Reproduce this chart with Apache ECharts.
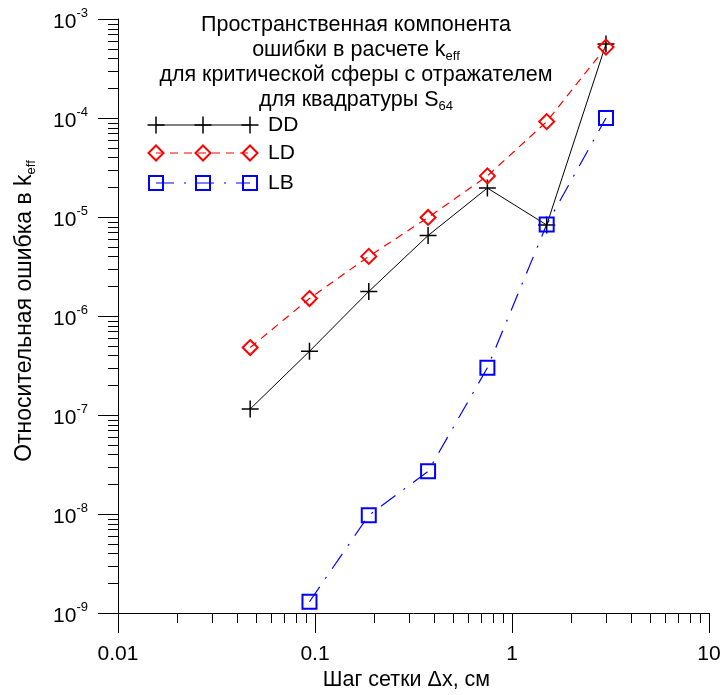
<!DOCTYPE html>
<html>
<head>
<meta charset="utf-8">
<script src="https://cdn.jsdelivr.net/npm/echarts@6/dist/echarts.min.js"></script>
<style>
  html, body { margin: 0; padding: 0; background: #ffffff; }
  #chart { width: 722px; height: 695px; }
</style>
</head>
<body>
<div id="chart"></div>
<script>
// Mesh step (cm) and relative k_eff error for the three schemes
const stepSizes = [0.046875, 0.09375, 0.1875, 0.375, 0.75, 1.5, 3];
const errDD = [1.15e-7, 4.4e-7, 1.77e-6, 6.5e-6, 1.96e-5, 8.3e-6, 5.6e-4];
const errLD = [4.8e-7, 1.5e-6, 4.0e-6, 9.9e-6, 2.6e-5, 9.2e-5, 5.2e-4];
const errLB = [null, 1.3e-9, 9.7e-9, 2.7e-8, 3.0e-7, 8.4e-6, 1.0e-4];

// Axis tick labels
const xTickLabels = ['0.01', '0.1', '1', '10'];
const yTickExponents = ['-9', '-8', '-7', '-6', '-5', '-4', '-3'];

// Minor ticks: 2..9 inside every decade
const minorMultipliers = [2, 3, 4, 5, 6, 7, 8, 9];
const xDecades = [0.01, 0.1, 1];
const yDecades = [1e-9, 1e-8, 1e-7, 1e-6, 1e-5, 1e-4];

const titleLines = [
  'Пространственная компонента',
  'ошибки в расчете k{sub|eff}',
  'для критической сферы с отражателем',
  'для квадратуры S{sub|64}'
];

const FONT = "'Liberation Sans', Arial, Helvetica, sans-serif";
const X_MIN = 0.01, X_MAX = 10, Y_MIN = 1e-9, Y_MAX = 1e-3;

const crossPath = 'path://M8,0L8,16M0,8L16,8';
const seriesDefs = [
  { name: 'DD', values: errDD, color: '#000000', dash: 'solid', width: 1, symbol: crossPath, size: 17, border: 1.5 },
  { name: 'LD', values: errLD, color: '#ff0000', dash: [8, 6], width: 1.2, symbol: 'diamond', size: 15, border: 2 },
  { name: 'LB', values: errLB, color: '#0000ff', dash: [18, 10, 2, 10], width: 1.2, symbol: 'rect', size: 14, border: 2 }
];

const xMinor = [];
xDecades.forEach(d => minorMultipliers.forEach(m => xMinor.push(m * d)));
const yMinor = [];
yDecades.forEach(d => minorMultipliers.forEach(m => yMinor.push(m * d)));

const crisp = v => Math.round(v) + 0.5;

const lineSeries = seriesDefs.map(d => ({
  type: 'line',
  name: d.name,
  data: stepSizes.map((x, i) => (d.values[i] == null ? null : [x, d.values[i]])).filter(Boolean),
  symbol: d.symbol,
  symbolSize: d.size,
  showAllSymbol: true,
  itemStyle: { color: 'none', borderColor: d.color, borderWidth: d.border },
  lineStyle: { color: d.color, width: d.width, type: d.dash },
  emphasis: { disabled: true },
  z: 3
}));

const minorTickSeries = [
  {
    type: 'custom', coordinateSystem: 'cartesian2d', clip: false, silent: true, z: 1,
    data: xMinor.map(v => [v, Y_MIN]),
    renderItem: (params, api) => {
      const p = api.coord([api.value(0), api.value(1)]);
      const x = crisp(p[0]);
      return { type: 'line', shape: { x1: x, y1: p[1], x2: x, y2: p[1] + 10 }, style: { stroke: '#000', lineWidth: 1 } };
    }
  },
  {
    type: 'custom', coordinateSystem: 'cartesian2d', clip: false, silent: true, z: 1,
    data: yMinor.map(v => [X_MIN, v]),
    renderItem: (params, api) => {
      const p = api.coord([api.value(0), api.value(1)]);
      const y = crisp(p[1]);
      return { type: 'line', shape: { x1: p[0] - 10, y1: y, x2: p[0], y2: y }, style: { stroke: '#000', lineWidth: 1 } };
    }
  }
];

// Legend: sample line with three markers, then the label
const legendX = [156, 203, 250];
const legendTextX = 268;
const legendRowY = [125, 153, 183];

function legendMarker(def, cx, cy) {
  const s = def.size / 2;
  const st = { fill: 'none', stroke: def.color, lineWidth: def.border };
  if (def.name === 'DD') {
    return [
      { type: 'line', shape: { x1: cx - s, y1: cy, x2: cx + s, y2: cy }, style: st },
      { type: 'line', shape: { x1: cx, y1: cy - s, x2: cx, y2: cy + s }, style: st }
    ];
  }
  if (def.symbol === 'diamond') {
    return [{ type: 'polygon', shape: { points: [[cx, cy - s], [cx + s, cy], [cx, cy + s], [cx - s, cy]] }, style: st }];
  }
  return [{ type: 'rect', shape: { x: cx - s, y: cy - s, width: 2 * s, height: 2 * s }, style: st }];
}

const legendGraphic = [];
seriesDefs.forEach((def, i) => {
  const y = legendRowY[i];
  legendGraphic.push({
    type: 'line',
    shape: { x1: legendX[0], y1: y, x2: legendX[2], y2: y },
    style: { stroke: def.color, lineWidth: def.width, lineDash: def.dash === 'solid' ? null : def.dash }
  });
  legendX.forEach(x => legendMarker(def, x, y).forEach(el => legendGraphic.push(el)));
  legendGraphic.push({
    type: 'text', x: legendTextX, y: y,
    style: { text: def.name, fontSize: 21, fontFamily: FONT, fill: '#000', verticalAlign: 'middle', align: 'left' }
  });
});

const chart = echarts.init(document.getElementById('chart'), null, { renderer: 'canvas' });
chart.setOption({
  animation: false,
  backgroundColor: '#ffffff',
  title: {
    text: titleLines.join('\n'),
    left: 356, top: 12, textAlign: 'center', padding: 0,
    textStyle: {
      fontSize: 21.5, fontWeight: 'normal', color: '#000', fontFamily: FONT, lineHeight: 25.3,
      rich: { sub: { fontSize: 13, lineHeight: 12, verticalAlign: 'bottom', fontFamily: FONT, color: '#000' } }
    }
  },
  grid: { left: 118, right: 13, top: 19, bottom: 82, containLabel: false, outerBoundsMode: 'none' },
  xAxis: {
    type: 'log', logBase: 10, min: X_MIN, max: X_MAX,
    axisLine: { lineStyle: { color: '#000', width: 1 } },
    axisTick: { show: true, inside: false, length: 20, lineStyle: { color: '#000', width: 1 } },
    minorTick: { show: false },
    splitLine: { show: false },
    axisLabel: {
      margin: 31, fontSize: 21, color: '#000', fontFamily: FONT,
      formatter: v => xTickLabels[Math.round(Math.log10(v) - Math.log10(X_MIN))]
    },
    name: 'Шаг сетки Δx, см',
    nameLocation: 'middle', nameGap: 56, nameMoveOverlap: false,
    nameTextStyle: { fontSize: 21.5, color: '#000', fontFamily: FONT, padding: [0, 14, 0, 0] }
  },
  yAxis: {
    type: 'log', logBase: 10, min: Y_MIN, max: Y_MAX,
    axisLine: { lineStyle: { color: '#000', width: 1 } },
    axisTick: { show: true, inside: false, length: 20, lineStyle: { color: '#000', width: 1 } },
    minorTick: { show: false },
    splitLine: { show: false },
    axisLabel: {
      margin: 30, color: '#000', fontFamily: FONT,
      formatter: v => '{b|10}{s|' + yTickExponents[Math.round(Math.log10(v) - Math.log10(Y_MIN))] + '}',
      rich: {
        b: { fontSize: 21, fontFamily: FONT, color: '#000', padding: [7, 0, 0, 0], verticalAlign: 'bottom' },
        s: { fontSize: 13, fontFamily: FONT, color: '#000', padding: [2, 0, 0, 0], verticalAlign: 'top' }
      }
    },
    name: '{n|Относительная ошибка в k}{sub|eff}',
    nameLocation: 'middle', nameGap: 80, nameMoveOverlap: false,
    nameTextStyle: {
      fontSize: 23, color: '#000', fontFamily: FONT, padding: [0, 0, 0, 10],
      rich: {
        n: { fontSize: 23, fontFamily: FONT, color: '#000', lineHeight: 27 },
        sub: { fontSize: 13, fontFamily: FONT, color: '#000', lineHeight: 13, verticalAlign: 'bottom' }
      }
    }
  },
  graphic: legendGraphic,
  series: [...minorTickSeries, ...lineSeries]
});
</script>
</body>
</html>
